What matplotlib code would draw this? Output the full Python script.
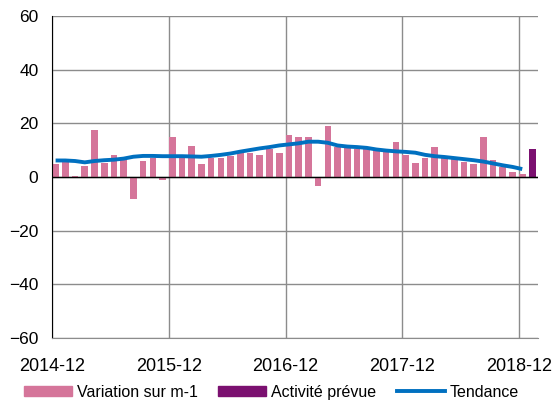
import numpy as np
import matplotlib.pyplot as plt
from matplotlib.patches import Patch
from matplotlib.lines import Line2D

plt.rcParams['font.family'] = ['Liberation Sans', 'DejaVu Sans']

# variation mensuelle, 2014-12 .. 2018-12
variation = [4.8, 5.5, 0.6, 4.2, 17.7, 5.4, 8.2, 7.3, -8.0, 6.0,
             7.3, -1.2, 15.0, 7.0, 11.6, 4.8, 7.0, 7.3, 7.8, 9.3,
             8.9, 8.3, 10.3, 8.9, 15.8, 15.1, 15.1, -3.3, 19.0, 11.1,
             11.1, 10.6, 10.6, 10.1, 9.3, 13.1, 8.3, 5.4, 7.0, 11.1,
             7.3, 7.4, 5.5, 4.8, 15.1, 6.2, 3.9, 2.0, 1.3]
# activité prévue (mois suivant)
prevue = [10.3]
tendance = [6.2, 6.2, 6.0, 5.5, 6.0, 6.3, 6.5, 6.9, 7.6, 7.9,
            7.9, 7.8, 7.8, 7.8, 7.7, 7.6, 7.9, 8.3, 8.8, 9.5,
            10.1, 10.7, 11.2, 11.8, 12.2, 12.6, 13.2, 13.2, 12.8, 11.8,
            11.4, 11.2, 10.9, 10.3, 9.9, 9.6, 9.4, 9.1, 8.3, 7.8,
            7.5, 7.1, 6.7, 6.3, 5.8, 5.1, 4.4, 3.8, 3.0]
tick_labels = ['2014-12', '2015-12', '2016-12', '2017-12', '2018-12']

pink = '#D5759A'
purple = '#7B1070'
blue = '#0070C0'
grid_col = '#8C8C8C'

n = len(variation)
x = np.arange(n)
w = 0.68

fig = plt.figure(figsize=(5.6, 4.03), dpi=100)
ax = fig.add_axes([0.0934, 0.161, 0.868, 0.799])

ax.bar(x, variation, width=w, align='edge', color=pink, zorder=2)
ax.bar([n], prevue, width=w * 1.15, align='edge', color=purple, zorder=2)
ax.plot(x + w / 2, tendance, color=blue, lw=2.8, zorder=3,
        solid_capstyle='butt')

ax.set_xlim(0, n + 1)
ax.set_ylim(-60, 60)
ax.set_yticks(np.arange(-60, 61, 20))
ax.set_xticks(np.arange(0, n, 12))
ax.set_xticklabels(tick_labels)
ax.tick_params(length=0, labelsize=12.5)
ax.tick_params(axis='x', pad=14, labelsize=13)
ax.tick_params(axis='y', pad=10)

ax.grid(True, color=grid_col, lw=1.0, zorder=0)
ax.axhline(0, color='black', lw=1.0, zorder=2.5)
for s in ['top', 'right']:
    ax.spines[s].set_visible(False)
ax.spines['bottom'].set_color(grid_col)
ax.spines['left'].set_color('black')

handles = [Patch(color=pink, label='Variation sur m-1'),
           Patch(color=purple, label='Activité prévue'),
           Line2D([], [], color=blue, lw=2.8, label='Tendance')]
fig.legend(handles=handles, loc='center', bbox_to_anchor=(0.485, 0.027),
           ncol=3, frameon=False, fontsize=11.5, handlelength=3.0,
           handleheight=0.6, handletextpad=0.3, columnspacing=1.3,
           borderaxespad=0, borderpad=0)

fig.savefig('out.png', dpi=100)
